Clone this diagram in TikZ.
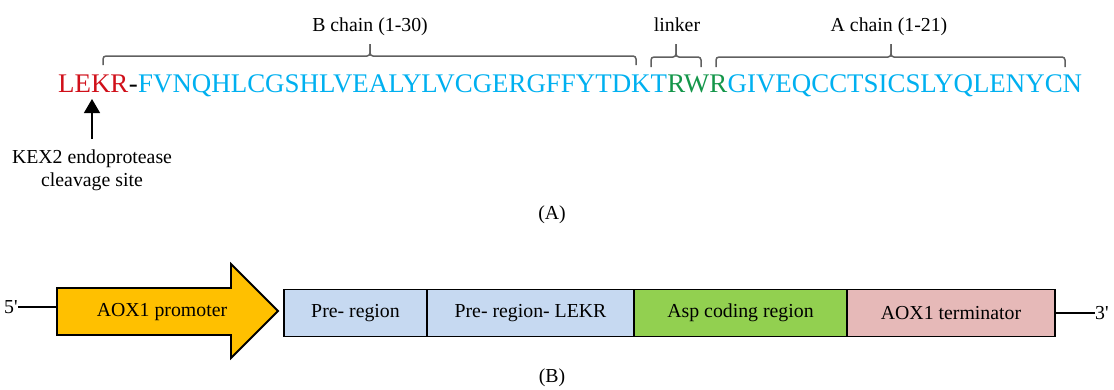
\documentclass[tikz,border=0pt]{standalone}
\usepackage{fontspec}
\setmainfont{Liberation Serif}
\usetikzlibrary{arrows.meta}
\definecolor{seqred}{HTML}{D0101A}
\definecolor{seqblue}{HTML}{00B0F0}
\definecolor{seqgreen}{HTML}{14964A}
\definecolor{bracegray}{HTML}{606060}
\definecolor{promfill}{HTML}{FFC000}
\definecolor{preblue}{HTML}{C6D9F1}
\definecolor{aspgreen}{HTML}{92D050}
\definecolor{termpink}{HTML}{E6B9B8}
\tikzset{
  lbl/.style={font=\fontsize{19.8}{23}\selectfont, inner sep=0pt},
  seqpart/.style={font=\fontsize{26.9}{30}\selectfont, inner sep=0pt, anchor=base west},
  bracepath/.style={draw=bracegray, line width=1.5pt, rounded corners=3pt},
  gene/.style={draw=black, line width=1.8pt, minimum height=47pt, inner sep=0pt, outer sep=0pt, font=\fontsize{19.8}{23}\selectfont, anchor=west},
  wire/.style={draw=black, line width=1.5pt},
}
\begin{document}
\begin{tikzpicture}[x=1pt, y=-1pt]
\useasboundingbox (0,0) rectangle (1114,389);
% ---------- (A) sequence ----------
\node[seqpart, text=seqred] (lekr) at (58,92.5) {LEKR};
\node[seqpart, text=black] (dash) at (lekr.base east) {-};
\node[seqpart, text=seqblue] (bch) at (dash.base east) {FVNQHLCGSHLVEALYLVCGERGFFYTDKT};
\node[seqpart, text=seqgreen] (lnk) at (bch.base east) {RWR};
\node[seqpart, text=seqblue] (ach) at (lnk.base east) {GIVEQCCTSICSLYQLENYCN};
% braces
\draw[bracepath] (103,65) -- (103,56) -- (370,56) -- (370,44);
\draw[bracepath] (370,44) -- (370,56) -- (636,56) -- (636,65);
\draw[bracepath] (651,67) -- (651,57) -- (676,57) -- (676,44);
\draw[bracepath] (676,44) -- (676,57) -- (701,57) -- (701,67);
\draw[bracepath] (716,67) -- (716,57) -- (891,57) -- (891,44);
\draw[bracepath] (891,44) -- (891,57) -- (1065,57) -- (1065,67);
\node[lbl, anchor=base] (blab) at (370,31) {B chain (1-30)};
\node[lbl, anchor=base] (llab) at (677,31) {linker};
\node[lbl, anchor=base] (alab) at (889,31) {A chain (1-21)};
% KEX2 arrow
\node[lbl, align=center, anchor=base] (kex) at (92,186) {KEX2 endoprotease\\cleavage site};
\coordinate (cut) at (92,99);
\draw[black, line width=1.2pt, -{Triangle[width=16pt,length=14pt]}] (92,139) -- (cut);
\node[lbl, anchor=base] (capA) at (552,219) {(A)};
% ---------- (B) construct ----------
\draw[draw=black, line width=1.8pt, fill=promfill, line join=miter]
  (57,288) -- (231,288) -- (231,264) -- (278,311) -- (231,358) -- (231,335) -- (57,335) -- cycle;
\coordinate (promw) at (57,307);
\node[lbl] (prom) at (162,312) {AOX1 promoter};
\node[lbl, anchor=base west] (five) at (4,313) {5\textquotesingle};
\draw[wire] (five.east |- promw) -- (promw);
\node[gene, fill=preblue, minimum width=143pt] (pre) at (284,313) {Pre- region};
\node[gene, fill=preblue, minimum width=207pt] (prelekr) at (pre.east) {Pre- region- LEKR};
\node[gene, fill=aspgreen, minimum width=213pt] (asp) at (prelekr.east) {Asp coding region};
\node[gene, fill=termpink, minimum width=208pt] (term) at (asp.east) {AOX1 terminator};
\node[lbl, anchor=base west] (three) at (1095,319) {3\textquotesingle};
\draw[wire] (term.east) -- (three.west |- term.east);
\node[lbl, anchor=base] (capB) at (552,382) {(B)};
\end{tikzpicture}
\end{document}
